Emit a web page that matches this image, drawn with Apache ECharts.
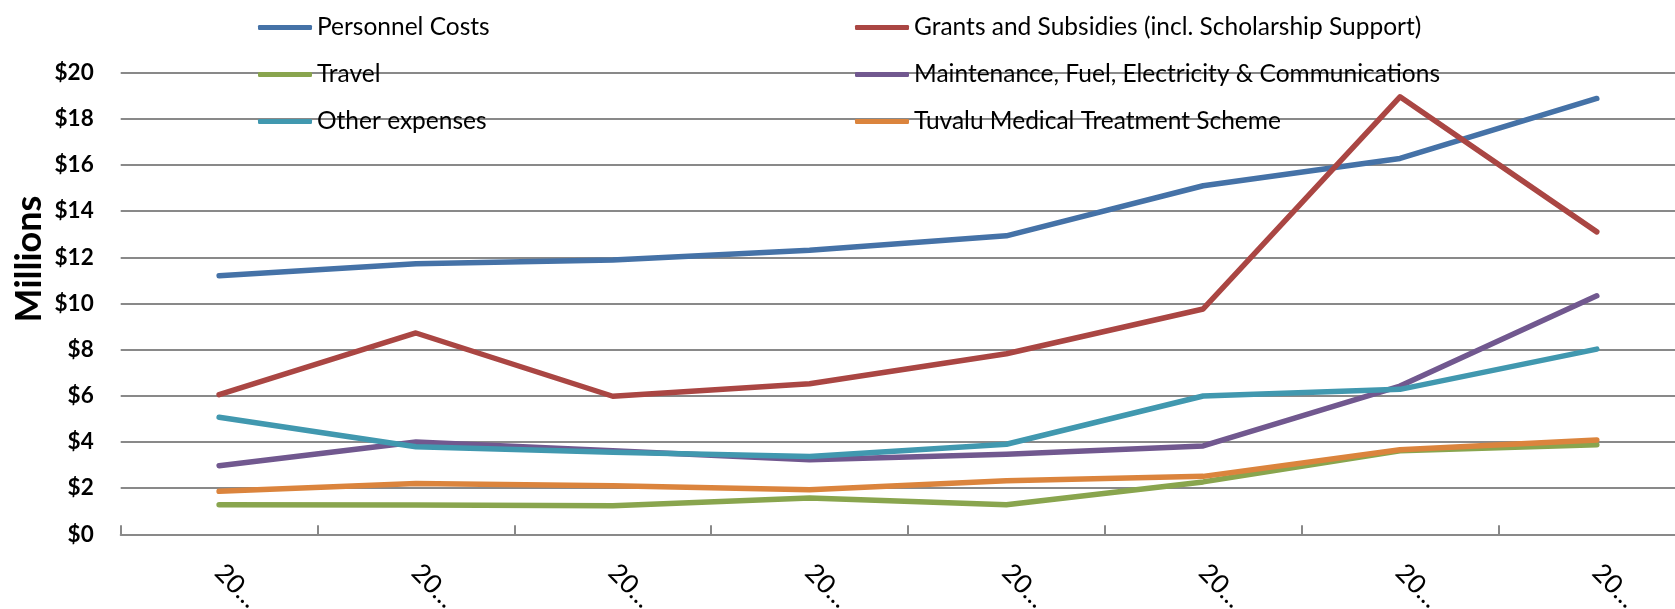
<!DOCTYPE html>
<html>
<head>
<meta charset="utf-8">
<script src="https://cdn.jsdelivr.net/npm/echarts@6/dist/echarts.min.js"></script>
<style>html,body{margin:0;padding:0;background:#fff;}#c{width:1675px;height:609px;}</style>
</head>
<body>
<div id="c"></div>
<script>
var categories = ["20…","20…","20…","20…","20…","20…","20…","20…"];
var yTicks = [0, 20, 2];
var personnel = [11.2, 11.72, 11.88, 12.3, 12.93, 15.1, 16.28, 18.88];
var grants = [6.05, 8.72, 5.98, 6.52, 7.82, 9.76, 18.95, 13.1];
var travel = [1.28, 1.27, 1.24, 1.57, 1.28, 2.27, 3.62, 3.88];
var maintenance = [2.97, 4.0, 3.62, 3.23, 3.47, 3.83, 6.42, 10.33];
var other = [5.07, 3.79, 3.55, 3.37, 3.9, 5.99, 6.28, 8.02];
var medical = [1.86, 2.2, 2.1, 1.93, 2.32, 2.51, 3.66, 4.09];
var names = ["Personnel Costs","Grants and Subsidies (incl. Scholarship Support)","Travel","Maintenance, Fuel, Electricity & Communications","Other expenses","Tuvalu Medical Treatment Scheme"];
var colors = ["#4572A7","#AA4643","#89A54E","#71588F","#4198AF","#DB843D"];
var axisTitle = "Millions";

var FONT = "Lato";
var chart = echarts.init(document.getElementById('c'), null, {renderer:'canvas'});
function mk(name, data, color){
  return {name:name, type:'line', data:data, symbol:'none', smooth:false,
    lineStyle:{width:5.5, color:color, cap:'round', join:'round'}, itemStyle:{color:color}};
}
var legendCommon = {orient:'vertical', icon:'roundRect', itemWidth:54, itemHeight:5, itemGap:22,
  textStyle:{fontFamily:FONT, fontSize:24.5, color:'#000', lineHeight:21, padding:[0,0,0,0]}, selectedMode:false};
chart.setOption({
  animation:false,
  color:colors,
  grid:{left:120.7, width:1574.5, top:72.6, bottom:74.7, containLabel:false, outerBoundsMode:'none'},
  legend:[
    Object.assign({}, legendCommon, {left:253, top:10, data:[names[0],names[2],names[4]]}),
    Object.assign({}, legendCommon, {left:850, top:10, data:[names[1],names[3],names[5]]})
  ],
  graphic:[{type:'text', x:29, y:259, rotation:Math.PI/2,
    style:{text:axisTitle, align:'center', verticalAlign:'middle', fontFamily:FONT, fontWeight:'bold', fontSize:36, fill:'#000'}}],
  xAxis:{type:'category', data:categories, boundaryGap:true,
    axisLine:{lineStyle:{color:'#898989', width:2}},
    axisTick:{show:true, inside:true, length:9, lineStyle:{color:'#898989', width:2}},
    axisLabel:{rotate:-45, margin:34, fontFamily:FONT, fontSize:26, color:'#000', interval:0}},
  yAxis:{type:'value', min:yTicks[0], max:yTicks[1], interval:yTicks[2],
    axisLine:{show:false}, axisTick:{show:false},
    splitLine:{lineStyle:{color:'#898989', width:2}},
    axisLabel:{margin:27, fontFamily:FONT, fontWeight:'bold', fontSize:22.5, color:'#000', formatter:function(v){return '$'+v;}}},
  series:[
    mk(names[0], personnel, colors[0]),
    mk(names[1], grants, colors[1]),
    mk(names[2], travel, colors[2]),
    mk(names[3], maintenance, colors[3]),
    mk(names[4], other, colors[4]),
    mk(names[5], medical, colors[5])
  ]
});
</script>
</body>
</html>
